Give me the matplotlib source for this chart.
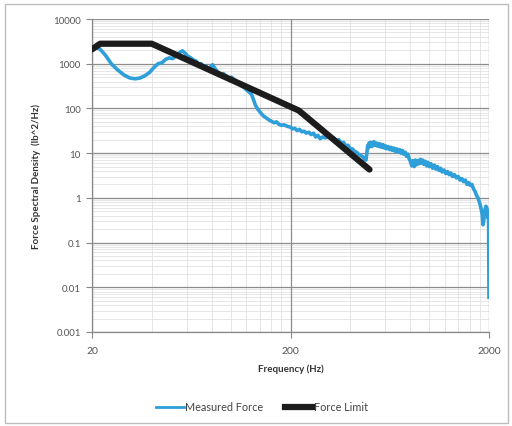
import matplotlib
matplotlib.use("Agg")
import matplotlib.pyplot as plt
from matplotlib.ticker import FixedLocator, NullFormatter, FixedFormatter
from matplotlib.lines import Line2D
from matplotlib.patches import Rectangle

# force limit spec (Hz, lb^2/Hz)
limitFreq = [20, 22, 40, 220, 500]
limitPsd = [2100, 2800, 2800, 90, 4.3]

# measured force PSD (Hz, lb^2/Hz)
measFreq = [20, 21, 22, 23.5, 25, 27, 29, 31, 33, 35, 37, 39, 41, 43, 45, 47, 49, 51,
            53, 55, 57, 59, 61, 63, 65, 67, 69, 71, 73, 75, 77, 79, 81, 83, 86, 89,
            92, 95, 98, 101, 104, 108, 112, 116, 120, 124, 127, 130, 133, 136, 140,
            144, 148, 152, 156, 160, 165, 170, 175, 180, 186, 192,
            200, 205, 210, 216, 222, 228, 234, 240, 247, 254, 261, 268, 275, 282,
            290, 300, 310, 320, 330, 340, 350, 360, 370, 380, 390, 400, 410, 420,
            430, 440, 450, 460, 470, 480,
            486, 490, 494, 498, 503, 508, 514, 520, 526, 532, 538, 545, 552, 560,
            568, 576, 585, 594, 603, 612, 622, 632, 642, 652, 663, 674, 685, 696,
            708, 720, 732, 744, 756, 768, 780, 792, 804, 816, 828, 840, 852, 864,
            876, 888, 900, 912, 925, 940, 955, 970, 985, 1000, 1020, 1040, 1060,
            1080, 1100, 1120, 1140, 1160, 1185, 1210, 1235, 1260, 1285, 1310, 1340,
            1370, 1400, 1430, 1460, 1490, 1520, 1550, 1580, 1610, 1640, 1670, 1700,
            1730, 1760, 1790, 1820, 1845, 1865, 1880, 1895, 1910, 1930, 1950, 1965,
            1980, 1990, 2000]
measPsd = [2400, 2300, 2100, 1500, 1000, 720, 560, 480, 460, 480, 540, 640, 820, 1000,
           1050, 1250, 1350, 1300, 1500, 1750, 1950, 1700, 1450, 1350, 1200, 1150, 950,
           1000, 820, 900, 720, 850, 950, 800, 650, 560, 600, 520, 470, 500, 430, 380,
           330, 300, 260, 230, 210, 160, 120, 100, 85, 72, 65, 60, 55, 52, 48, 50, 44,
           42, 43, 40,
           38, 35, 36, 32, 34, 30, 31, 28, 29.5, 26, 28, 23, 25, 21,
           23, 22, 24, 21, 22, 19, 20, 17, 17.5, 14.5, 15, 12.5, 12.5, 11,
           10.5, 9.5, 9, 8.5, 7.5, 7,
           11, 15, 13, 17, 15, 17.5, 14, 16, 18, 15, 17, 14.5, 16.5, 14,
           16, 13.5, 15.5, 13, 14.5, 12.5, 14, 12, 13.5, 11.5, 13, 11, 12.5, 10.5,
           12, 10, 11.5, 9.5, 10.5, 8.5, 9.5, 7.5, 6.5, 5.2, 6.8, 5, 7, 5.5,
           6.8, 5.8, 7.2, 6, 7, 5.6, 6.6, 5.2, 6.2, 5, 5.8, 4.6, 5.4,
           4.4, 5, 4.1, 4.6, 3.8, 4.2, 3.5, 3.9, 3.3, 3.6, 3.0, 3.3,
           2.8, 3.0, 2.5, 2.7, 2.3, 2.5, 2.0, 2.2, 1.9, 2.0, 1.6, 1.4,
           1.15, 1.0, 0.8, 0.6, 0.45, 0.25, 0.3, 0.4, 0.55, 0.65, 0.6, 0.45,
           0.35, 0.5, 0.006]

yTicks = [0.001, 0.01, 0.1, 1, 10, 100, 1000, 10000]
yLabels = ["0.001", "0.01", "0.1", "1", "10", "100", "1000", "10000"]
xTicks = [20, 200, 2000]
xLabels = ["20", "200", "2000"]

plt.rcParams['font.family'] = ['Lato', 'DejaVu Sans']

fig = plt.figure(figsize=(5.12, 4.27), dpi=100)
W, H = 512, 427
ax = fig.add_axes([92 / W, 1 - 333 / H, (489 - 92) / W, (333 - 20) / H])

ax.set_xscale("log")
ax.set_yscale("log")
ax.set_xlim(20, 2000)
ax.set_ylim(0.001, 10000)

ax.plot(measFreq, measPsd, color="#2e9fd8", lw=2.6, zorder=3)
ax.plot(limitFreq, limitPsd, color="#1c1c1c", lw=4.5, solid_capstyle="round",
        solid_joinstyle="round", zorder=4)

# minor grid from the axis, major grid drawn on top of it
minorX = [20 * k for k in range(2, 10)] + [200 * k for k in range(2, 10)]
minorY = [d * k for d in yTicks[:-1] for k in range(2, 10)]
ax.xaxis.set_major_locator(FixedLocator(xTicks))
ax.xaxis.set_major_formatter(FixedFormatter(xLabels))
ax.xaxis.set_minor_locator(FixedLocator(minorX))
ax.xaxis.set_minor_formatter(NullFormatter())
ax.yaxis.set_major_locator(FixedLocator(yTicks))
ax.yaxis.set_major_formatter(FixedFormatter(yLabels))
ax.yaxis.set_minor_locator(FixedLocator(minorY))
ax.yaxis.set_minor_formatter(NullFormatter())

ax.grid(which="minor", color="#e2e2e2", lw=0.6)
ax.set_axisbelow(True)
for yv in yTicks:
    ax.axhline(yv, color="#8c8c8c", lw=0.9, zorder=1)
for xv in xTicks:
    ax.axvline(xv, color="#8c8c8c", lw=0.9, zorder=1)

ax.tick_params(which="minor", length=0)
ax.tick_params(which="major", length=4, width=0.8, color="#888888",
               labelcolor="#555555", labelsize=7)
ax.tick_params(axis="x", labelsize=7.5, pad=6)
ax.tick_params(axis="y", pad=4)

for s in ["top", "right"]:
    ax.spines[s].set_visible(False)
for s in ["left", "bottom"]:
    ax.spines[s].set_color("#888888")
    ax.spines[s].set_linewidth(0.9)

ax.set_xlabel("Frequency (Hz)", fontsize=7, fontweight="bold", color="#333333", labelpad=6)
ax.set_ylabel("Force Spectral Density  (lb^2/Hz)", fontsize=7, fontweight="bold",
              color="#333333", labelpad=9)

handles = [Line2D([], [], color="#2e9fd8", lw=2),
           Line2D([], [], color="#1c1c1c", lw=4.5)]
fig.legend(handles, ["Measured Force", "Force Limit"], loc="center",
           bbox_to_anchor=(262 / W, 1 - 408 / H), ncol=2, frameon=False,
           fontsize=7.8, handlelength=2.6, handletextpad=0.1, columnspacing=2.0,
           labelcolor="#444444")

# chart area border
fig.patches.append(Rectangle((5 / W, 3 / H), 503 / W, 419 / H, transform=fig.transFigure,
                             fill=False, edgecolor="#bdbdbd", lw=1))

fig.savefig("out.png", dpi=100)
